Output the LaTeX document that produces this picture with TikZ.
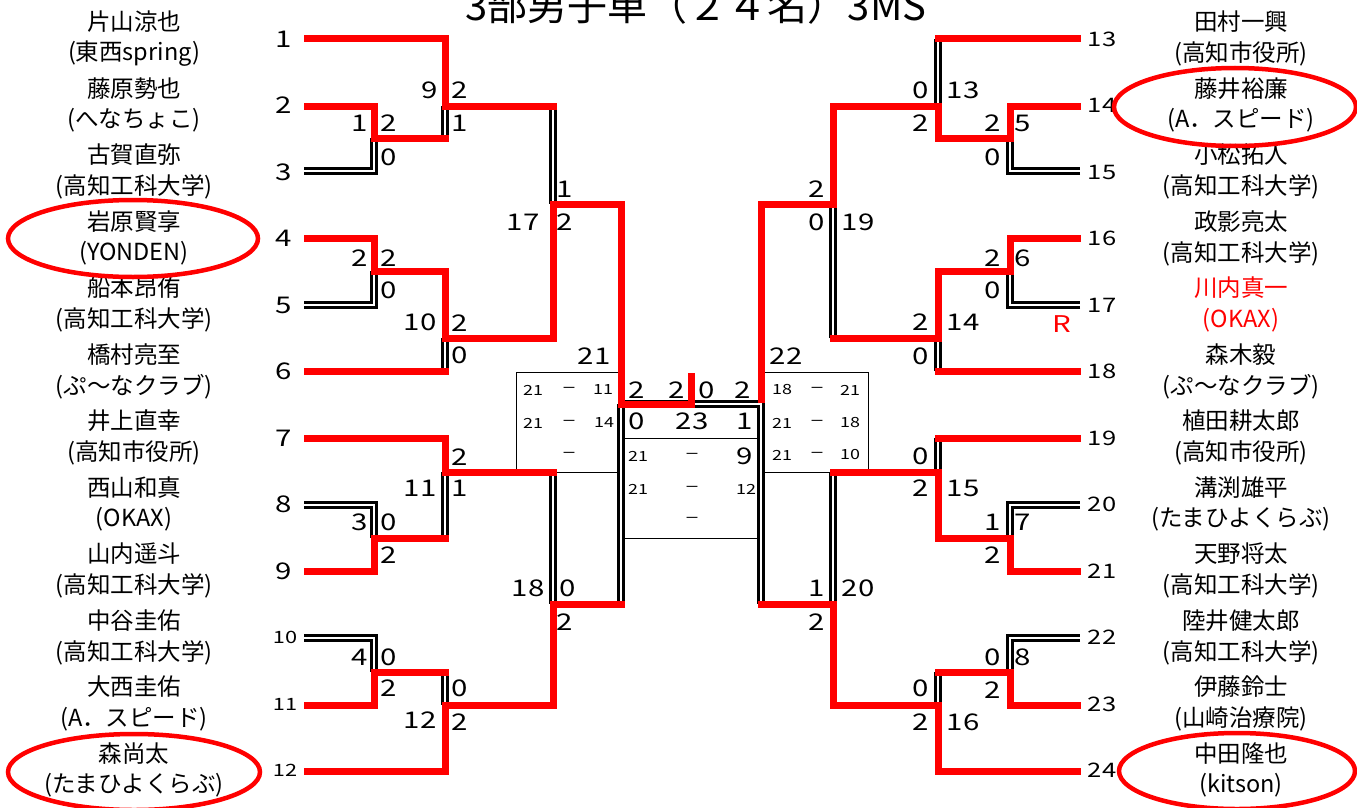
\documentclass[tikz,border=0pt]{standalone}
\usepackage{fontspec}
\setmainfont{Noto Sans CJK JP}
\newfontfamily\numf{Noto Sans CJK JP}[FakeStretch=1.28]
\definecolor{rd}{RGB}{255,0,0}
\newcount\tcnt
\newcommand\T[4][sc]{\global\advance\tcnt by 1\relax\edef\tnm{t\the\tcnt}\node[#1] (\tnm) at (#2,#3) {#4};}
\tikzset{
  win/.style={draw=rd, line width=7pt, line cap=rect, line join=miter},
  lose/.style={draw=black, double=white, line width=2.6pt, double distance=2.0pt, line join=miter},
  thinbox/.style={draw=black, line width=0.9pt},
  sc/.style={inner sep=0pt, font=\numf\fontsize{23}{23}\selectfont},
  sm/.style={inner sep=0pt, font=\numf\fontsize{14}{14}\selectfont},
  dsh/.style={inner sep=0pt, font=\fontsize{15}{15}\selectfont},
  entl/.style={inner sep=0pt, font=\numf\fontsize{23}{23}\selectfont},
  ents/.style={inner sep=0pt, font=\numf\fontsize{17}{17}\selectfont},
  entr/.style={inner sep=0pt, font=\numf\fontsize{20}{20}\selectfont},
  nm/.style={inner sep=0pt, font=\fontsize{23.5}{24}\selectfont},
  ell/.style={draw=rd, line width=4.5pt},
}
\begin{document}
\begin{tikzpicture}[x=1pt,y=-1pt]
\useasboundingbox (0,0) rectangle (1357,808);
% title
\node[anchor=base, inner sep=0pt, font=\fontsize{40}{40}\selectfont] (title) at (696,21) {3部男子単（２４名）3MS};
% thin boxes
\draw[thinbox] (621,372) -- (516,372) -- (516,472) -- (621,472);
\draw[thinbox] (761,372) -- (868,372) -- (868,472) -- (761,472);
\draw[thinbox] (621,438) -- (761,438);
\draw[thinbox] (621,538) -- (761,538);
% loser (double) lines, left
\draw[lose] (553,106) -- (553,204);
\draw[lose] (445,138) -- (445,106);
\draw[lose] (304,171) -- (374,171) -- (374,138);
\draw[lose] (304,305) -- (374,305) -- (374,271);
\draw[lose] (445,371) -- (445,338);
\draw[lose] (553,472) -- (553,604);
\draw[lose] (304,505) -- (374,505) -- (374,538);
\draw[lose] (445,538) -- (445,472);
\draw[lose] (304,638) -- (374,638) -- (374,672);
\draw[lose] (445,672) -- (445,705);
\draw[lose] (621,604) -- (621,404);
\draw[lose] (621,404) -- (761,404) -- (761,604);
% loser (double) lines, right
\draw[lose] (938,39) -- (938,106);
\draw[lose] (1080,171) -- (1010,171) -- (1010,138);
\draw[lose] (833,338) -- (833,204);
\draw[lose] (1080,305) -- (1010,305) -- (1010,271);
\draw[lose] (938,371) -- (938,338);
\draw[lose] (938,438) -- (938,472);
\draw[lose] (1080,505) -- (1010,505) -- (1010,538);
\draw[lose] (833,472) -- (833,604);
\draw[lose] (1080,638) -- (1010,638) -- (1010,672);
\draw[lose] (938,672) -- (938,705);
% winner (red) lines, left
\draw[win] (307,39) -- (445,39) -- (445,106) -- (553,106);
\draw[win] (307,106) -- (374,106) -- (374,138) -- (445,138);
\draw[win] (307,238) -- (374,238) -- (374,271) -- (445,271) -- (445,338) -- (553,338) -- (553,204) -- (621,204) -- (621,404) -- (691,404) -- (691,376);
\draw[win] (307,371) -- (445,371);
\draw[win] (307,438) -- (445,438) -- (445,472) -- (553,472);
\draw[win] (307,571) -- (374,571) -- (374,538) -- (445,538);
\draw[win] (307,705) -- (374,705) -- (374,672) -- (445,672);
\draw[win] (307,771) -- (445,771) -- (445,705) -- (553,705) -- (553,604) -- (621,604);
% winner (red) lines, right
\draw[win] (1077,39) -- (938,39);
\draw[win] (1077,106) -- (1010,106) -- (1010,138) -- (938,138) -- (938,106) -- (833,106) -- (833,204) -- (761,204) -- (761,399);
\draw[win] (1077,238) -- (1010,238) -- (1010,271) -- (938,271) -- (938,338) -- (833,338);
\draw[win] (1077,371) -- (938,371);
\draw[win] (1077,438) -- (938,438);
\draw[win] (1077,571) -- (1010,571) -- (1010,538) -- (938,538) -- (938,472) -- (833,472);
\draw[win] (1077,705) -- (1010,705) -- (1010,672) -- (938,672);
\draw[win] (1077,771) -- (938,771) -- (938,705) -- (833,705) -- (833,604) -- (761,604);
% entry numbers
\foreach \i in {1,...,9} {\node[entl] (el\i) at (284,{39+66.5*(\i-1)}) {\i};}
\foreach \i in {10,11,12} {\node[ents] (el\i) at (285,{39+66.5*(\i-1)}) {\i};}
\foreach \i in {13,...,24} {\node[entr] (er\i) at (1102,{39+66.5*(\i-13)}) {\i};}
% names left
\foreach \n/\a [count=\i from 0] in {片山涼也/(東西spring),藤原勢也/(へなちょこ),古賀直弥/(高知工科大学),岩原賢享/(YONDEN),船本昂侑/(高知工科大学),橋村亮至/(ぷ～なクラブ),井上直幸/(高知市役所),西山和真/(OKAX),山内遥斗/(高知工科大学),中谷圭佑/(高知工科大学),大西圭佑/(A．スピード),森尚太/(たまひよくらぶ)}
 {\node[nm] (ln\i) at (134,{22+66.5*\i}) {\n}; \node[nm] (la\i) at (134,{54+66.5*\i}) {\a};}
% names right
\foreach \n/\a/\c [count=\i from 0] in {田村一興/(高知市役所)/black,藤井裕廉/(A．スピード)/black,小松拓人/(高知工科大学)/black,政影亮太/(高知工科大学)/black,川内真一/(OKAX)/rd,森木毅/(ぷ～なクラブ)/black,植田耕太郎/(高知市役所)/black,溝渕雄平/(たまひよくらぶ)/black,天野将太/(高知工科大学)/black,陸井健太郎/(高知工科大学)/black,伊藤鈴士/(山崎治療院)/black,中田隆也/(kitson)/black}
 {\node[nm, text=\c] (rn\i) at (1241,{22+66.5*\i}) {\n}; \node[nm, text=\c] (ra\i) at (1241,{54+66.5*\i}) {\a};}
% scores left
\T{360}{123}{1}\T{389}{123}{2}\T{389}{157}{0}
\T{430}{90}{9}\T{460}{90}{2}\T{460}{123}{1}
\T{565}{189}{1}\T{523}{222}{17}\T{565}{222}{2}
\T{360}{258}{2}\T{389}{258}{2}\T{389}{290}{0}
\T{420}{322}{10}\T{460}{323}{2}\T{460}{355}{0}
\T{594}{356}{21}\T{637}{390}{2}\T{637}{421}{0}
\T{460}{457}{2}\T{420}{488}{11}\T{460}{488}{1}
\T{360}{522}{3}\T{389}{522}{0}\T{389}{555}{2}
\T{528}{588}{18}\T{568}{588}{0}\T{565}{622}{2}
\T{360}{657}{4}\T{389}{657}{0}\T{389}{688}{2}
\T{460}{688}{0}\T{420}{720}{12}\T{460}{722}{2}
% centre
\T{677}{390}{2}\T{707}{390}{0}\T{743}{390}{2}
\T{692}{421}{23}\T{745}{421}{1}
\T{786}{356}{22}
% scores right
\T{921}{90}{0}\T{963}{90}{13}\T{921}{123}{2}
\T{993}{123}{2}\T{1023}{123}{5}\T{993}{157}{0}
\T{817}{189}{2}\T{817}{222}{0}\T{858}{222}{19}
\T{993}{258}{2}\T{1023}{258}{6}\T{993}{290}{0}
\T{921}{322}{2}\T{963}{322}{14}\T{921}{356}{0}
\T{921}{456}{0}\T{921}{488}{2}\T{963}{488}{15}
\T{993}{522}{1}\T{1023}{522}{7}\T{993}{555}{2}
\T{817}{588}{1}\T{858}{588}{20}\T{817}{622}{2}
\T{993}{657}{0}\T{1023}{657}{8}\T{993}{690}{2}
\T{921}{688}{0}\T{921}{722}{2}\T{963}{722}{16}
\T[sc,text=rd]{1062}{324}{R}
% game scores in boxes
\T[sm]{533}{390}{21}\T[dsh]{569}{390}{－}\T[sm]{603}{390}{11}
\T[sm]{533}{423}{21}\T[dsh]{569}{423}{－}\T[sm]{604}{423}{14}
\T[dsh]{569}{455}{－}
\T[sm]{782}{390}{18}\T[dsh]{817}{390}{－}\T[sm]{850}{390}{21}
\T[sm]{782}{423}{21}\T[dsh]{817}{423}{－}\T[sm]{850}{423}{18}
\T[sm]{782}{455}{21}\T[dsh]{817}{455}{－}\T[sm]{850}{455}{10}
\T[sm]{638}{456}{21}\T[dsh]{692}{456}{－}\T{745}{456}{9}
\T[sm]{638}{489}{21}\T[dsh]{692}{489}{－}\T[sm]{746}{489}{12}
\T[dsh]{692}{520}{－}
% ellipses
\draw[ell] (133,238.5) ellipse [x radius=125, y radius=38.5];
\draw[ell] (134,772) ellipse [x radius=126, y radius=38];
\draw[ell] (1235,107) ellipse [x radius=121, y radius=39];
\draw[ell] (1237,771) ellipse [x radius=118, y radius=38];
\end{tikzpicture}
\end{document}
